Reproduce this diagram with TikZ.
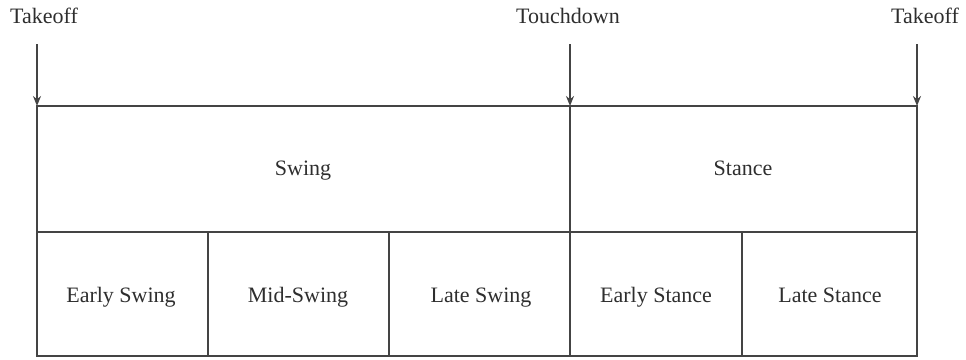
\documentclass[tikz,border=0pt]{standalone}
\usepackage{fontspec}
\setmainfont{Liberation Serif}
\usetikzlibrary{positioning, arrows.meta}
\definecolor{linegray}{HTML}{444444}
\definecolor{textgray}{HTML}{2E2E2E}

\begin{document}
\begin{tikzpicture}[
    x=1pt, y=-1pt,
    frame/.style={draw=linegray, line width=2.6pt},
    divider/.style={draw=linegray, line width=1.3pt},
    phase/.style={font=\fontsize{22}{26}\selectfont, text=textgray, text height=1.6ex, text depth=.4ex},
    event/.style={font=\fontsize{22}{26}\selectfont, text=textgray, text height=1.6ex, text depth=.4ex},
    marker/.style={-{Stealth[length=10pt, width=8pt]}, draw=linegray, line width=2.4pt},
]
\useasboundingbox (0,0) rectangle (966,359);

%% GRID
    % corners and split points
    \coordinate (tl) at (37,106);
    \coordinate (tm) at (570,106);
    \coordinate (tr) at (917,106);
    \coordinate (bl) at (37,356);
    \coordinate (br) at (917,356);

    \draw[divider] (37,232) -- (917,232);
    \draw[divider] (tm) -- (570,356);
    \draw[divider] (208,232) -- (208,356);
    \draw[divider] (389,232) -- (389,356);
    \draw[divider] (742,232) -- (742,356);
    \draw[frame] (tl) rectangle (br);

%% NODES
    % gait phases
    \node[phase] (swing) at (303,173) {Swing};
    \node[phase] (stance) at (743,173) {Stance};

    \node[phase] (early_swing) at (121,300) {Early Swing};
    \node[phase] (mid_swing) at (298,300) {Mid-Swing};
    \node[phase] (late_swing) at (481,300) {Late Swing};
    \node[phase] (early_stance) at (656,300) {Early Stance};
    \node[phase] (late_stance) at (830,300) {Late Stance};

    % gait events
    \node[event] (takeoff_a) at (44,21) {Takeoff};
    \node[event] (touchdown) at (568,21) {Touchdown};
    \node[event] (takeoff_b) at (925,21) {Takeoff};

    \coordinate (takeoff_a_start) at (37,44);
    \coordinate (touchdown_start) at (570,44);
    \coordinate (takeoff_b_start) at (917,44);

    \draw[marker] (takeoff_a_start) -- (tl);
    \draw[marker] (touchdown_start) -- (tm);
    \draw[marker] (takeoff_b_start) -- (tr);

\end{tikzpicture}
\end{document}
